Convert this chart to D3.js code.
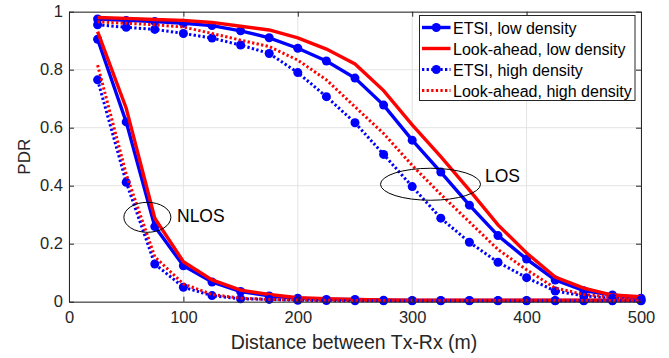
<!DOCTYPE html>
<html>
<head>
<meta charset="utf-8">
<script src="https://cdn.jsdelivr.net/npm/d3@7"></script>
<style>
  body { margin: 0; background: #fff; }
  svg { display: block; font-family: "Liberation Sans", Arial, sans-serif; }
</style>
</head>
<body>
<svg id="chart"></svg>
<script>
const distance = [25, 50, 75, 100, 125, 150, 175, 200, 225, 250, 275, 300, 325, 350, 375, 400, 425, 450, 475, 500];

// LOS curves
const losEtsiLow  = [0.975, 0.97, 0.966, 0.96, 0.952, 0.934, 0.91, 0.874, 0.83, 0.771, 0.678, 0.557, 0.447, 0.333, 0.228, 0.147, 0.075, 0.038, 0.023, 0.012];
const losLaLow    = [0.98, 0.977, 0.973, 0.97, 0.963, 0.95, 0.937, 0.91, 0.871, 0.82, 0.728, 0.61, 0.5, 0.385, 0.265, 0.168, 0.085, 0.047, 0.023, 0.017];
const losEtsiHigh = [0.955, 0.946, 0.939, 0.925, 0.909, 0.885, 0.856, 0.79, 0.707, 0.617, 0.508, 0.397, 0.288, 0.205, 0.136, 0.083, 0.037, 0.02, 0.012, 0.006];
const losLaHigh   = [0.965, 0.96, 0.955, 0.947, 0.925, 0.902, 0.88, 0.833, 0.765, 0.672, 0.58, 0.47, 0.37, 0.275, 0.18, 0.11, 0.047, 0.025, 0.015, 0.01];

// NLOS curves
const nlosEtsiLow  = [0.905, 0.62, 0.259, 0.124, 0.068, 0.035, 0.02, 0.012, 0.008, 0.008, 0.005, 0.004, 0.004, 0.004, 0.004, 0.004, 0.004, 0.004, 0.004, 0.004];
const nlosLaLow    = [0.931, 0.667, 0.288, 0.138, 0.075, 0.04, 0.025, 0.014, 0.01, 0.008, 0.006, 0.005, 0.005, 0.005, 0.005, 0.005, 0.005, 0.005, 0.005, 0.005];
const nlosEtsiHigh = [0.765, 0.412, 0.13, 0.05, 0.021, 0.01, 0.008, 0.005, 0.004, 0.003, 0.003, 0.003, 0.003, 0.003, 0.003, 0.003, 0.003, 0.003, 0.003, 0.003];
const nlosLaHigh   = [0.816, 0.44, 0.155, 0.061, 0.025, 0.012, 0.008, 0.006, 0.005, 0.004, 0.004, 0.004, 0.004, 0.004, 0.004, 0.004, 0.004, 0.004, 0.004, 0.004];

const legendLabels = ["ETSI, low density", "Look-ahead, low density", "ETSI, high density", "Look-ahead, high density"];
const xTicks = [0, 100, 200, 300, 400, 500];
const yTicks = [0, 0.2, 0.4, 0.6, 0.8, 1];

const width = 669;
const height = 358;
const margin = {top: 11.7, right: 28, bottom: 56.3, left: 69};

const svg = d3.select("#chart")
  .attr("width", width)
  .attr("height", height);

const x = d3.scaleLinear().domain([0, 500]).range([margin.left, width - margin.right]);
const y = d3.scaleLinear().domain([0, 1]).range([height - margin.bottom, margin.top]);

const axisColor = "#262626";

// grid
svg.append("g").selectAll("line")
  .data(xTicks).enter().append("line")
  .attr("x1", d => x(d)).attr("x2", d => x(d))
  .attr("y1", y(0)).attr("y2", y(1))
  .attr("stroke", "#e3e3e3").attr("stroke-width", 1);
svg.append("g").selectAll("line")
  .data(yTicks).enter().append("line")
  .attr("x1", x(0)).attr("x2", x(500))
  .attr("y1", d => y(d)).attr("y2", d => y(d))
  .attr("stroke", "#e3e3e3").attr("stroke-width", 1);

// series
const series = [
  {vals: losEtsiLow, color: "#0000ff", dotted: false, marker: true},
  {vals: losLaLow, color: "#ff0000", dotted: false, marker: false},
  {vals: losEtsiHigh, color: "#0000ff", dotted: true, marker: true},
  {vals: losLaHigh, color: "#ff0000", dotted: true, marker: false},
  {vals: nlosEtsiLow, color: "#0000ff", dotted: false, marker: true},
  {vals: nlosLaLow, color: "#ff0000", dotted: false, marker: false},
  {vals: nlosEtsiHigh, color: "#0000ff", dotted: true, marker: true},
  {vals: nlosLaHigh, color: "#ff0000", dotted: true, marker: false}
];

const line = d3.line()
  .x((d, i) => x(distance[i]))
  .y(d => y(d));

const plot = svg.append("g");
series.forEach(s => {
  plot.append("path")
    .attr("d", line(s.vals))
    .attr("fill", "none")
    .attr("stroke", s.color)
    .attr("stroke-width", s.dotted ? 3 : 3.4)
    .attr("stroke-dasharray", s.dotted ? "2.3,2.3" : null);
  if (s.marker) {
    plot.append("g").selectAll("circle")
      .data(s.vals).enter().append("circle")
      .attr("cx", (d, i) => x(distance[i]))
      .attr("cy", d => y(d))
      .attr("r", 4.5)
      .attr("fill", s.color);
  }
});

// axes
const xAxis = svg.append("g")
  .attr("transform", `translate(0,${y(0)})`)
  .call(d3.axisBottom(x).tickValues(xTicks).tickSizeInner(-5).tickSizeOuter(0).tickPadding(10).tickFormat(d3.format("d")));
const yAxis = svg.append("g")
  .attr("transform", `translate(${x(0)},0)`)
  .call(d3.axisLeft(y).tickValues(yTicks).tickSizeInner(-5).tickSizeOuter(0).tickPadding(6).tickFormat(d => d === 0 || d === 1 ? d : d3.format(".1f")(d)));
const xTop = svg.append("g")
  .attr("transform", `translate(0,${y(1)})`)
  .call(d3.axisTop(x).tickValues(xTicks).tickSizeInner(-5).tickSizeOuter(0).tickFormat(""));
const yRight = svg.append("g")
  .attr("transform", `translate(${x(500)},0)`)
  .call(d3.axisRight(y).tickValues(yTicks).tickSizeInner(-5).tickSizeOuter(0).tickFormat(""));

[xAxis, yAxis, xTop, yRight].forEach(a => {
  a.selectAll("path, line").attr("stroke", axisColor);
  a.selectAll("text").attr("fill", axisColor).style("font-size", "16.5px").style("font-family", "'Liberation Sans', Arial, sans-serif");
});

svg.append("text")
  .attr("x", 354)
  .attr("y", 349)
  .attr("text-anchor", "middle")
  .attr("fill", axisColor)
  .style("font-size", "19.5px")
  .text("Distance between Tx-Rx (m)");

svg.append("text")
  .attr("transform", `translate(30,${(y(0) + y(1)) / 2}) rotate(-90)`)
  .attr("text-anchor", "middle")
  .attr("fill", axisColor)
  .style("font-size", "17px")
  .text("PDR");

// annotations
svg.append("ellipse")
  .attr("cx", x(68.5)).attr("cy", y(0.291))
  .attr("rx", 23.5).attr("ry", 15)
  .attr("fill", "none").attr("stroke", "#000").attr("stroke-width", 1);
svg.append("text")
  .attr("x", 177).attr("y", 222)
  .attr("fill", "#000")
  .style("font-size", "17.5px")
  .text("NLOS");

svg.append("ellipse")
  .attr("cx", x(316)).attr("cy", y(0.405))
  .attr("rx", 50).attr("ry", 16)
  .attr("fill", "none").attr("stroke", "#000").attr("stroke-width", 1);
svg.append("text")
  .attr("x", 485).attr("y", 181.5)
  .attr("fill", "#000")
  .style("font-size", "17.5px")
  .text("LOS");

// legend
const legend = svg.append("g");
legend.append("rect")
  .attr("x", 419.5).attr("y", 15.5)
  .attr("width", 215.5).attr("height", 85)
  .attr("fill", "#fff")
  .attr("stroke", axisColor).attr("stroke-width", 1);

const legendItems = legendLabels.map((lab, i) => ({label: lab, s: series[i]}));
const rows = legend.selectAll("g.item")
  .data(legendItems).enter().append("g")
  .attr("class", "item")
  .attr("transform", (d, i) => `translate(0,${27.5 + i * 21})`);
rows.append("line")
  .attr("x1", 422).attr("x2", 450.5)
  .attr("y1", 0).attr("y2", 0)
  .attr("stroke", d => d.s.color)
  .attr("stroke-width", d => d.s.dotted ? 3 : 3.4)
  .attr("stroke-dasharray", d => d.s.dotted ? "2.3,2.3" : null);
rows.filter(d => d.s.marker).append("circle")
  .attr("cx", 436.3).attr("cy", 0).attr("r", 4.5)
  .attr("fill", d => d.s.color);
rows.append("text")
  .attr("x", 453).attr("y", 6)
  .attr("fill", "#000")
  .style("font-size", "16px")
  .text(d => d.label);
</script>
</body>
</html>
